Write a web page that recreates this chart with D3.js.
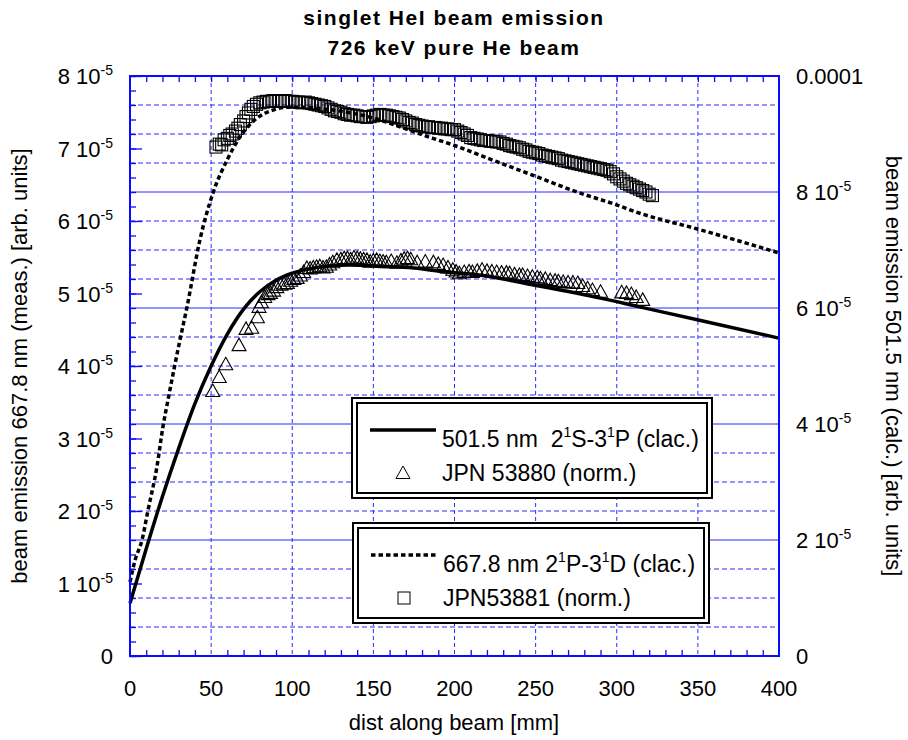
<!DOCTYPE html>
<html><head><meta charset="utf-8">
<script src="https://cdn.jsdelivr.net/npm/d3@7/dist/d3.min.js"></script>
<style>body{margin:0;background:#fff}svg{display:block}text{font-family:"Liberation Sans",Arial,sans-serif;fill:#000;white-space:pre}</style>
</head><body><svg id="c" width="908" height="740"></svg>
<script>
// ---------- data (values in units of 1e-5) ----------
const title1 = "singlet HeI beam emission";
const title2 = "726 keV pure He beam";
const xTicks = [0,50,100,150,200,250,300,350,400];
const leftTicks = [0,1,2,3,4,5,6,7,8];          // x 1e-5
const rightTicks = [0,2,4,6,8,10];              // x 1e-5
const rightTickLabels = ["0","2","4","6","8","0.0001"];

// 667.8 nm calc (dashed, left axis)
const calc667X = [0,3.1,7.4,11.1,16.6,20.3,23.4,30.8,35.1,43.1,51.2,59.8,67.8,78.3,88.1,96.8,104.8,125.1,150,170,186.7,199,220,248.4,275.5,300.2,312.5,351.3,400];
const calc667Y = [1.02,1.32,1.60,2.01,2.61,3.16,3.53,4.36,4.81,5.74,6.39,6.84,7.16,7.42,7.53,7.57,7.57,7.53,7.42,7.27,7.14,7.05,6.87,6.63,6.40,6.22,6.12,5.88,5.56];

// 501.5 nm calc (solid, right axis)
const calc501X = [0,10,20,30,40,50,60,70,80,90,100,115,135,155,175,195,215,248,290,314,351,400];
const calc501Y = [0.91,1.85,2.75,3.58,4.35,5.00,5.55,5.98,6.28,6.48,6.60,6.70,6.74,6.72,6.69,6.62,6.57,6.40,6.17,6.02,5.79,5.48];

// JPN53881 (squares, left axis)
const sqX = [53,55,56.5,58,60,61.5,63,65,66.5,68,70,71.5,73,74.5,76,78,80,82,84,86,88,90,92,94,96,98,100,102,104,106,108,110,112,114,116,118,120,122,124,126,128,130,132,134,136,138,140,142,144,146,148,150,152,154,156,158,160,162,164,166,168,170,172,174,176,178,180,182,184,186,188,190,192,194,196,198,200,202,204,206,208,210,212,214,216,218,220,222,224,226,228,230,232,234,236,238,240,242,244,246,248,250,252,254,256,258,260,262,264,266,268,270,272,274,276,278,280,282,284,286,288,290,292,294,296,298,300,302,304,306,308,310,312,314,316,318,320,322];
const sqY = [7.02,7.06,7.05,7.12,7.14,7.18,7.20,7.24,7.28,7.33,7.38,7.44,7.49,7.54,7.58,7.61,7.63,7.64,7.65,7.65,7.66,7.66,7.65,7.66,7.66,7.65,7.65,7.64,7.64,7.63,7.64,7.63,7.62,7.61,7.60,7.59,7.58,7.56,7.54,7.52,7.51,7.50,7.48,7.47,7.46,7.46,7.45,7.44,7.44,7.43,7.44,7.45,7.46,7.47,7.46,7.46,7.45,7.44,7.43,7.42,7.40,7.38,7.36,7.35,7.33,7.32,7.31,7.30,7.30,7.29,7.29,7.28,7.28,7.27,7.27,7.26,7.26,7.24,7.22,7.20,7.18,7.15,7.14,7.13,7.12,7.11,7.11,7.10,7.10,7.09,7.09,7.07,7.06,7.04,7.03,7.02,7.01,6.99,6.98,6.96,6.95,6.94,6.93,6.91,6.90,6.89,6.88,6.87,6.86,6.84,6.83,6.82,6.81,6.80,6.79,6.78,6.77,6.76,6.75,6.74,6.73,6.72,6.71,6.70,6.68,6.65,6.61,6.58,6.55,6.52,6.50,6.48,6.46,6.44,6.42,6.40,6.37,6.35];

// JPN 53880 (triangles, right axis)
const triX = [51,55,59,67.2,71.5,75,78.5,79.5,81,83,85,86.5,88.5,90.5,93,95,97,99,101,103,105,107,109,111,113,115,117,119,121,123,125,127.5,130,132,134,136,138,140,142,144,146,148,150,152,154,156,158,161,164.5,167,169,171,173,177,182,187,190,193,196,199,201,203,206,209,211,214,217,220,223,226,229,232,234,237,240,242,245,248,251,253,256,259,262,264,267,270,273,276,279,282,285,290,303,306,309,312,316];
const triY = [4.57,4.81,5.03,5.36,5.64,5.66,5.84,6.02,6.10,6.19,6.24,6.26,6.30,6.36,6.40,6.42,6.43,6.47,6.50,6.52,6.56,6.62,6.69,6.68,6.70,6.71,6.72,6.70,6.71,6.75,6.79,6.83,6.84,6.86,6.86,6.84,6.87,6.86,6.85,6.84,6.83,6.80,6.82,6.83,6.81,6.80,6.79,6.81,6.78,6.82,6.85,6.86,6.84,6.79,6.80,6.79,6.76,6.74,6.70,6.66,6.63,6.60,6.62,6.63,6.62,6.64,6.66,6.64,6.63,6.62,6.61,6.61,6.60,6.58,6.57,6.57,6.55,6.54,6.53,6.51,6.50,6.48,6.47,6.46,6.45,6.44,6.44,6.43,6.38,6.34,6.31,6.28,6.27,6.26,6.24,6.19,6.14];

const legend1 = {sample:"line", text:["501.5 nm  2","1","S-3","1","P (clac.)"], marker:"triangle", mtext:"JPN 53880 (norm.)"};
const legend2 = {sample:"dash", text:["667.8 nm 2","1","P-3","1","D (clac.)"], marker:"square", mtext:"JPN53881 (norm.)"};

// ---------- layout ----------
const svg = d3.select("#c");
const L=130,R=779,T=76,B=656;
const x = d3.scaleLinear().domain([0,400]).range([L,R]);
const yL = d3.scaleLinear().domain([0,8]).range([B,T]);
const yR = d3.scaleLinear().domain([0,10]).range([B,T]);
const BLUE="#0a0aff", GRID="#2a2aff";

// grid: horizontal lines at right-axis minor/major
const g = svg.append("g");
const hvals = d3.range(0,10.01,0.5).filter(v=>v>0&&v<10);
g.selectAll("line.h").data(hvals).join("line")
 .attr("x1",L).attr("x2",R).attr("y1",d=>yR(d)).attr("y2",d=>yR(d))
 .attr("stroke",GRID).attr("stroke-width",1)
 .attr("stroke-dasharray",d=>(Math.abs(d%2)<1e-6)?null:"5,3");
g.selectAll("line.v").data(xTicks.filter(v=>v>0&&v<400)).join("line")
 .attr("y1",T).attr("y2",B).attr("x1",d=>x(d)).attr("x2",d=>x(d))
 .attr("stroke",GRID).attr("stroke-width",1).attr("stroke-dasharray","4,3");

// axes ticks via d3 axes (inward)
const minorX = d3.range(0,401,10).filter(v=>v%50!==0);
const styleAx = s=>{s.select(".domain").remove();s.selectAll("line").attr("stroke",BLUE).attr("stroke-width",1.3);};
svg.append("g").attr("transform",`translate(0,${B})`)
 .call(d3.axisTop(x).tickValues(minorX).tickSize(6).tickFormat("")).call(styleAx);
svg.append("g").attr("transform",`translate(0,${T})`)
 .call(d3.axisBottom(x).tickValues(d3.range(10,400,10)).tickSize(6).tickFormat("")).call(styleAx);
svg.append("g").attr("transform",`translate(${L},0)`)
 .call(d3.axisRight(yL).tickValues(d3.range(0,8.01,0.2)).tickSize(6).tickFormat("")).call(styleAx);
svg.append("g").attr("transform",`translate(${L},0)`)
 .call(d3.axisRight(yL).tickValues(leftTicks).tickSize(12).tickFormat("")).call(styleAx);

// curves
const line = (xs,ys,ys2)=>d3.line().curve(d3.curveMonotoneX)(xs.map((v,i)=>[x(v),ys2(ys[i])]));
svg.append("path").attr("d",line(calc667X,calc667Y,yL)).attr("fill","none")
 .attr("stroke","#000").attr("stroke-width",3.5).attr("stroke-dasharray","4.5,3");
svg.append("path").attr("d",line(calc501X,calc501Y,yR)).attr("fill","none")
 .attr("stroke","#000").attr("stroke-width",3.5);

// markers
svg.append("g").selectAll("rect").data(sqX.map((v,i)=>[v,sqY[i]])).join("rect")
 .attr("x",d=>x(d[0])-6).attr("y",d=>yL(d[1])-6).attr("width",12).attr("height",12)
 .attr("fill","none").attr("stroke","#000").attr("stroke-width",1.1);
const triPath = "M0,-7L7,5.5L-7,5.5Z";
svg.append("g").selectAll("path").data(triX.map((v,i)=>[v,triY[i]])).join("path")
 .attr("d",triPath).attr("transform",d=>`translate(${x(d[0])},${yR(d[1])})`)
 .attr("fill","none").attr("stroke","#000").attr("stroke-width",1.1);

// frame
svg.append("rect").attr("x",L).attr("y",T).attr("width",R-L).attr("height",B-T)
 .attr("fill","none").attr("stroke",BLUE).attr("stroke-width",2);

// tick labels
const FS=22;
function sciLabel(sel, mant){
  sel.append("tspan").text(mant+" 10");
  sel.append("tspan").attr("dy",-9).attr("font-size",14).text("-5");
}
leftTicks.forEach(v=>{
  const t=svg.append("text").attr("x",113).attr("y",yL(v)+8).attr("text-anchor","end").attr("font-size",FS);
  if(v===0) t.text("0"); else sciLabel(t,v);
});
rightTicks.forEach((v,i)=>{
  const t=svg.append("text").attr("x",796).attr("y",yR(v)+8).attr("font-size",FS);
  if(v===0||v===10) t.text(rightTickLabels[i]); else sciLabel(t,rightTickLabels[i]);
});
xTicks.forEach(v=>{
  svg.append("text").attr("x",x(v)).attr("y",696).attr("text-anchor","middle").attr("font-size",FS).text(v);
});

// titles
svg.append("text").attr("x",454).attr("y",25).attr("text-anchor","middle").attr("font-size",21).attr("font-weight","bold").attr("letter-spacing",1.5).text(title1);
svg.append("text").attr("x",454).attr("y",55).attr("text-anchor","middle").attr("font-size",21).attr("font-weight","bold").attr("letter-spacing",1.5).text(title2);
svg.append("text").attr("x",454).attr("y",730).attr("text-anchor","middle").attr("font-size",FS).text("dist along beam [mm]");
svg.append("text").attr("transform",`translate(27,${(T+B)/2}) rotate(-90)`).attr("text-anchor","middle").attr("font-size",FS).text("beam emission 667.8 nm (meas.) [arb. units]");
svg.append("text").attr("transform",`translate(886,${(T+B)/2}) rotate(90)`).attr("text-anchor","middle").attr("font-size",FS).text("beam emission 501.5 nm (calc.) [arb. units]");

// legends
function legend(spec, x0,y0,x1,y1){
  const gg=svg.append("g");
  gg.append("rect").attr("x",x0).attr("y",y0).attr("width",x1-x0).attr("height",y1-y0).attr("fill","#fff").attr("stroke","#000").attr("stroke-width",2);
  gg.append("rect").attr("x",x0+5).attr("y",y0+5).attr("width",x1-x0-10).attr("height",y1-y0-10).attr("fill","none").attr("stroke","#000").attr("stroke-width",2);
  const ly=y0+32;
  gg.append("line").attr("x1",x0+18).attr("x2",x0+84).attr("y1",ly).attr("y2",ly).attr("stroke","#000")
    .attr("stroke-width",3.5).attr("stroke-dasharray",spec.sample==="dash"?"4.5,3":null);
  const t=gg.append("text").attr("x",x0+90).attr("y",ly+17).attr("font-size",23);
  spec.text.forEach((s,i)=>{
    if(i%2===1) t.append("tspan").attr("dy",-10).attr("font-size",14).text(s);
    else t.append("tspan").attr("dy",i===0?0:10).text(s);
  });
  const my=y0+75;
  if(spec.marker==="square") gg.append("rect").attr("x",x0+45).attr("y",my-6).attr("width",12).attr("height",12).attr("fill","none").attr("stroke","#000").attr("stroke-width",1);
  else gg.append("path").attr("d",triPath).attr("transform",`translate(${x0+51},${my})`).attr("fill","none").attr("stroke","#000").attr("stroke-width",1);
  gg.append("text").attr("x",x0+90).attr("y",my+8).attr("font-size",23).text(spec.mtext);
}
legend(legend1,352,398,712,498);
legend(legend2,353,523,709,623);
</script></body></html>
